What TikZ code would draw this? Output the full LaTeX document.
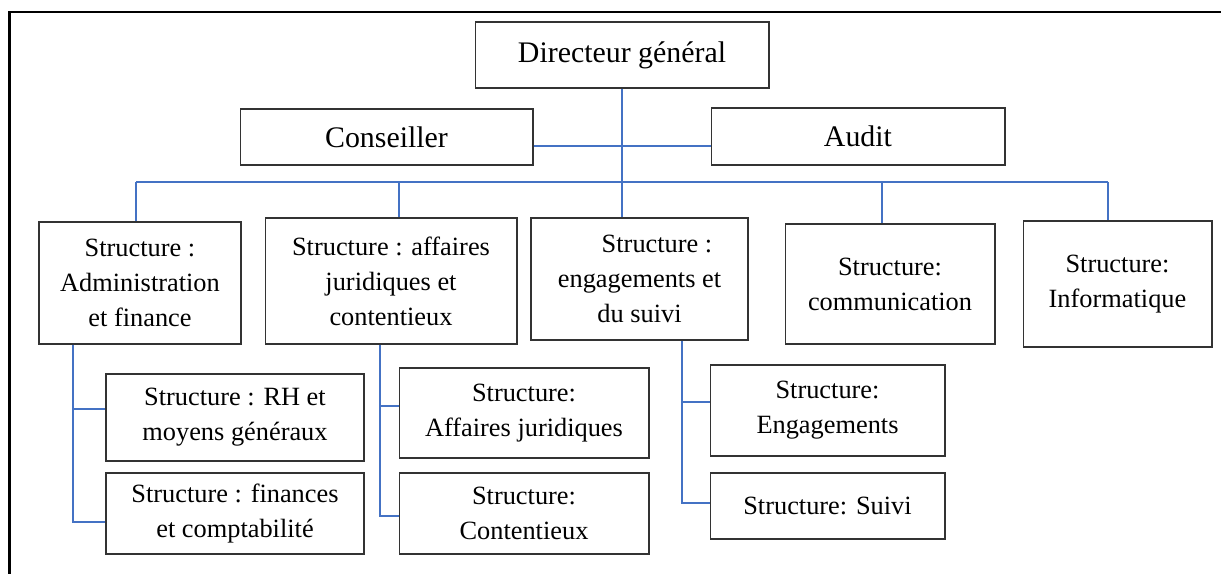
\documentclass[tikz,border=0pt]{standalone}
\usepackage{fontspec}
\setmainfont{Liberation Serif}
\usepackage{tikz}
\definecolor{linkblue}{RGB}{68,114,196}

\tikzset{
  orgbox/.style={draw=black!80, line width=0.6pt, align=center, inner sep=0pt,
                 font=\fontsize{15}{19.9}\selectfont},
  chief/.style={orgbox, font=\fontsize{17}{20}\selectfont},
  orgline/.style={draw=linkblue, line width=0.85pt},
}

\begin{document}
\begin{tikzpicture}[x=0.02cm, y=-0.02cm]
\useasboundingbox (0,0) rectangle (1221,574);

% page frame
\draw[line width=1.5pt] (9.5,574) -- (9.5,12) -- (1221,12);

% top of the chart
\node[chief, minimum width=5.88cm, minimum height=1.32cm] (dg) at (622,55) {Directeur général};
\node[chief, minimum width=5.86cm, minimum height=1.12cm] (cons) at (386.5,137) {Conseiller};
\node[chief, minimum width=5.88cm, minimum height=1.14cm] (audit) at (858,136.5) {Audit};

% structures
\node[orgbox, minimum width=4.04cm, minimum height=2.44cm] (adm) at (140,283)
  {Structure :\\ Administration\\ et finance};
\node[orgbox, minimum width=5.04cm, minimum height=2.52cm] (aff) at (391,281)
  {Structure : affaires\\ juridiques et\\ contentieux};
\node[orgbox, minimum width=4.34cm, minimum height=2.44cm] (eng) at (639.5,279)
  {\hspace*{0.7cm}Structure :\\ engagements et\\ du suivi};
\node[orgbox, minimum width=4.20cm, minimum height=2.40cm] (com) at (890,284)
  {Structure:\\ communication};
\node[orgbox, minimum width=3.78cm, minimum height=2.52cm] (info) at (1117.5,284)
  {Structure:\\ Informatique};

% sub-structures
\node[orgbox, minimum width=5.16cm, minimum height=1.74cm] (rh) at (235,417.5)
  {Structure : RH et\\ moyens généraux};
\node[orgbox, minimum width=5.16cm, minimum height=1.62cm] (fin) at (235,513.5)
  {Structure : finances\\ et comptabilité};
\node[orgbox, minimum width=5.00cm, minimum height=1.80cm] (aj) at (524,413)
  {Structure:\\ Affaires juridiques};
\node[orgbox, minimum width=5.00cm, minimum height=1.62cm] (cont) at (524,513.5)
  {Structure:\\ Contentieux};
\node[orgbox, minimum width=4.70cm, minimum height=1.82cm] (seng) at (827.5,410.5)
  {Structure:\\ Engagements};
\node[orgbox, minimum width=4.70cm, minimum height=1.32cm] (suivi) at (827.5,506)
  {Structure: Suivi};

% links
\coordinate (side) at (623,146);
\coordinate (dadm) at (136,182);
\coordinate (daff) at (399,182);
\coordinate (dcom) at (882,182);
\coordinate (dinfo) at (1108,182);

\draw[orgline] (dg.south) -- (dg.south |- eng.north);
\draw[orgline] (cons.east |- side) -- (audit.west |- side);
\draw[orgline] (dadm) -- (dinfo);
\foreach \n in {adm,aff,com,info}
  \draw[orgline] (d\n) -- (d\n |- \n.north);

\coordinate (brh) at (73,409);
\coordinate (bfin) at (73,522);
\draw[orgline] (brh |- adm.south) -- (bfin) -- (bfin -| fin.west);
\draw[orgline] (brh) -- (brh -| rh.west);

\coordinate (baj) at (380,406);
\coordinate (bcont) at (380,516);
\draw[orgline] (baj |- aff.south) -- (bcont) -- (bcont -| cont.west);
\draw[orgline] (baj) -- (baj -| aj.west);

\coordinate (bseng) at (682,402);
\coordinate (bsuivi) at (682,503);
\draw[orgline] (bseng |- eng.south) -- (bsuivi) -- (bsuivi -| suivi.west);
\draw[orgline] (bseng) -- (bseng -| seng.west);
\end{tikzpicture}
\end{document}
